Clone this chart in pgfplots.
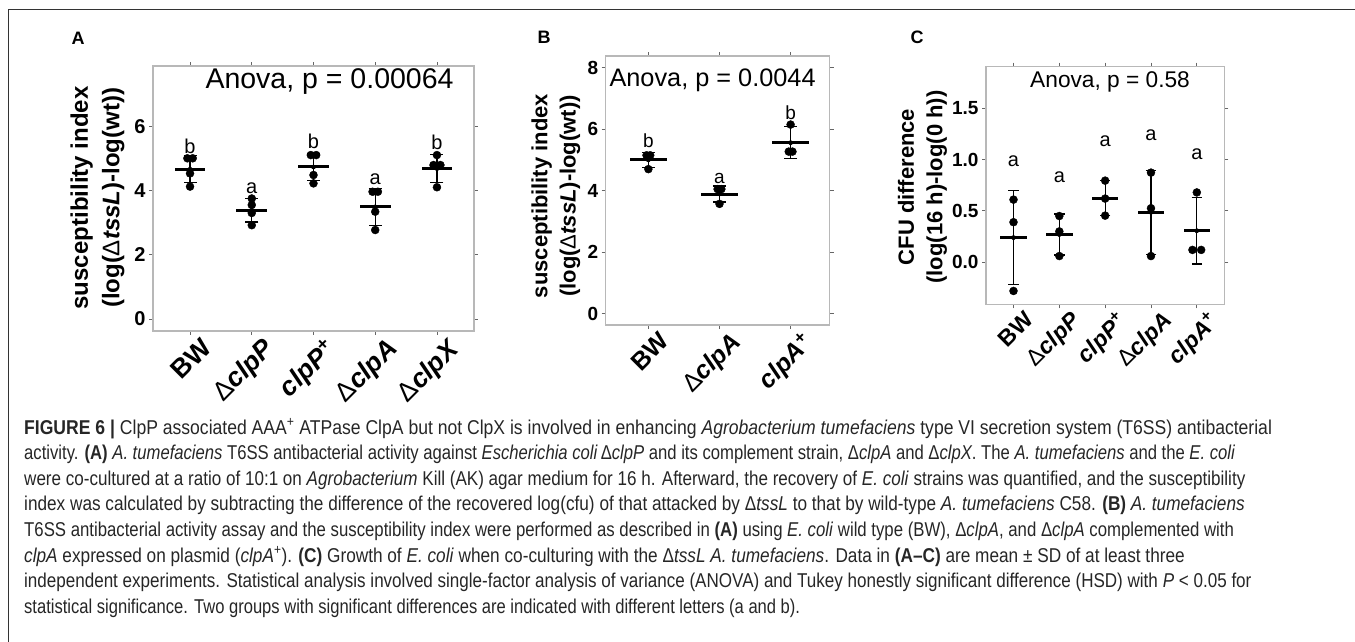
\documentclass[border=0pt]{standalone}
\usepackage{fontspec}
\setmainfont{Liberation Sans}
\newfontfamily\capfont[FakeStretch=0.92]{Liberation Sans}
\usepackage{graphicx}
\usepackage{pgfplots}
\pgfplotsset{compat=1.18}

\newcommand{\dl}{{\mdseries\upshape Δ}}
\newcommand{\fs}[1]{\fontsize{#1}{#1}\selectfont}

\pgfplotsset{
  panel/.style={
    scale only axis,
    anchor=north west,
    clip=false,
    axis line style={draw=black!28, line width=1.2pt},
    tick align=outside,
    major tick length=4pt,
    tick style={draw=black!60, line width=0.9pt},
    xtick={1,2,3,4,5},
    xticklabel style={xshift=10pt, rotate=45, anchor=north east, inner sep=1pt},
    /pgf/number format/assume math mode=true,
  },
  pts/.style={only marks, mark=*, mark size=4pt, black, forget plot},
  sd/.style={only marks, mark=none, black, forget plot,
    error bars/.cd, y dir=both, y explicit, error mark=-,
    error mark options={rotate=90, black, line width=1.2pt, mark size=#1},
    error bar style={black, line width=1.2pt}},
  mn/.style={only marks, mark=none, black, forget plot,
    error bars/.cd, x dir=both, x fixed=#1, error mark=none,
    error bar style={black, line width=3pt}},
}
\tikzset{lt/.style={anchor=base, font=\fs{#1}}}

\begin{document}
\begin{tikzpicture}
\useasboundingbox (0,0) rectangle (1355pt,-642pt);
\draw[black!80, line width=1pt] (8pt,-642pt) -- (8pt,-10pt) -- (1355pt,-10pt);

% ---------- panel A ----------
\begin{axis}[panel, at={(153pt,-66pt)}, width=321pt, height=265pt,
  xmin=0.4, xmax=5.6, ymin=-0.37, ymax=7.87, ytick={0,2,4,6},
  yticklabel style={font=\bfseries\fs{20}},
  xticklabel style={font=\bfseries\fs{26.5}},
  xticklabels={BW, \dl\textit{clpP}, \textit{clpP}\textsuperscript{+}, \dl\textit{clpA}, \dl\textit{clpX}}]
\addplot[sd=6.5pt] coordinates {(1,4.66) +- (0,0.42) (2,3.38) +- (0,0.36) (3,4.73) +- (0,0.43) (4,3.49) +- (0,0.58) (5,4.68) +- (0,0.44)};
\addplot[mn=0.25] coordinates {(1,4.66) (2,3.38) (3,4.73) (4,3.49) (5,4.68)};
\addplot[pts] coordinates {
  (0.957,5.0) (1.043,5.0) (1,4.53) (1,4.12)
  (2,3.75) (2,3.55) (2,3.3) (2,2.92)
  (2.957,5.1) (3.043,5.1) (3,4.48) (3,4.22)
  (3.957,3.96) (4.043,3.96) (4,3.34) (4,2.77)
  (5,5.1) (4.944,4.79) (5.056,4.79) (5,4.1)};
\node[lt=20] at (axis cs:1,5.15) {b};
\node[lt=20] at (axis cs:2,3.89) {a};
\node[lt=20] at (axis cs:3,5.31) {b};
\node[lt=20] at (axis cs:4,4.17) {a};
\node[lt=20] at (axis cs:5,5.27) {b};
\end{axis}

% ---------- panel B ----------
\begin{axis}[panel, at={(605.7pt,-56pt)}, width=224pt, height=269pt,
  xmin=0.4, xmax=3.55, ymin=-0.37, ymax=8.38, ytick={0,2,4,6,8}, xtick={1,2,3},
  yticklabel style={font=\bfseries\fs{19}},
  xticklabel style={font=\bfseries\fs{25}},
  xticklabels={BW, \dl\textit{clpA}, \textit{clpA}\textsuperscript{+}}]
\addplot[sd=6.5pt] coordinates {(1,5.0) +- (0,0.25) (2,3.89) +- (0,0.26) (3,5.56) +- (0,0.52)};
\addplot[mn=0.26] coordinates {(1,5.0) (2,3.89) (3,5.56)};
\addplot[pts] coordinates {
  (0.974,5.15) (1.026,5.15) (1,4.7)
  (1.974,4.05) (2.026,4.05) (2,3.57)
  (3,6.15) (2.974,5.27) (3.026,5.27)};
\node[lt=19] at (axis cs:1,5.41) {b};
\node[lt=19] at (axis cs:2,4.22) {a};
\node[lt=19] at (axis cs:3,6.3) {b};
\end{axis}

% ---------- panel C ----------
\begin{axis}[panel, at={(986pt,-66.7pt)}, width=238.3pt, height=237.6pt,
  xmin=0.4, xmax=5.6, ymin=-0.41, ymax=1.905, ytick={0,0.5,1,1.5},
  yticklabel style={font=\bfseries\fs{19}, /pgf/number format/.cd, fixed, fixed zerofill, precision=1},
  xticklabel style={font=\bfseries\fs{23}},
  xticklabels={BW, \dl\textit{clpP}, \textit{clpP}\textsuperscript{+}, \dl\textit{clpA}, \textit{clpA}\textsuperscript{+}}]
\addplot[sd=5.3pt] coordinates {(1,0.24) +- (0,0.46) (2,0.27) +- (0,0.20) (3,0.623) +- (0,0.17) (4,0.486) +- (0,0.41) (5,0.307) +- (0,0.325)};
\addplot[mn=0.29] coordinates {(1,0.24) (2,0.27) (3,0.623) (4,0.486) (5,0.307)};
\addplot[pts] coordinates {
  (1,0.61) (1,0.39) (1,-0.28)
  (2,0.45) (2,0.30) (2,0.06)
  (3,0.795) (3,0.62) (3,0.454)
  (4,0.873) (4,0.526) (4,0.06)
  (5,0.68) (4.905,0.12) (5.095,0.12)};
\node[lt=20] at (axis cs:1,0.93) {a};
\node[lt=20] at (axis cs:2,0.78) {a};
\node[lt=20] at (axis cs:3,1.125) {a};
\node[lt=20] at (axis cs:4,1.19) {a};
\node[lt=20] at (axis cs:5,1.0) {a};
\end{axis}

% ---------- panel letters, stats, axis titles ----------
\node[anchor=base west, font=\bfseries\fs{18}] at (68pt,-45pt) {A};
\node[anchor=base west, font=\bfseries\fs{18}] at (534pt,-44pt) {B};
\node[anchor=base west, font=\bfseries\fs{18}] at (907pt,-44pt) {C};

\node[anchor=base west, font=\fs{28.5}] at (202pt,-88.3pt) {Anova, p = 0.00064};
\node[anchor=base west, font=\fs{25.3}] at (606pt,-86pt) {Anova, p = 0.0044};
\node[anchor=base west, font=\fs{22.7}] at (1026.7pt,-87.3pt) {Anova, p = 0.58};

\node[rotate=90, align=center, font=\bfseries\fontsize{24}{31.6}\selectfont] at (97.5pt,-198pt)
  {susceptibility index\\(log(\dl\textit{tssL})-log(wt))};
\node[rotate=90, align=center, font=\bfseries\fontsize{22}{28.3}\selectfont] at (555.8pt,-196pt)
  {susceptibility index\\(log(\dl\textit{tssL})-log(wt))};
\node[rotate=90, align=center, font=\bfseries\fontsize{22}{28.4}\selectfont] at (922.5pt,-187pt)
  {CFU difference\\(log(16 h)-log(0 h))};

% ---------- caption ----------
\begin{scope}[every node/.style={anchor=base west, inner sep=0pt, text=black!85, font=\capfont\fs{20}}]
\node at (24pt,-434pt) {\scalebox{0.955}[1]{\textbf{FIGURE 6 |} ClpP associated AAA\textsuperscript{+} ATPase ClpA but not ClpX is involved in enhancing \textit{Agrobacterium tumefaciens} type VI secretion system (T6SS) antibacterial}};
\node at (24pt,-459.6pt) {\scalebox{0.905}[1]{activity. \textbf{(A)} \textit{A. tumefaciens} T6SS antibacterial activity against \textit{Escherichia coli}\,Δ\textit{clpP} and its complement strain, Δ\textit{clpA} and Δ\textit{clpX}. The \textit{A. tumefaciens} and the \textit{E. coli}}};
\node at (24pt,-485.2pt) {\scalebox{0.927}[1]{were co-cultured at a ratio of 10:1 on \textit{Agrobacterium} Kill (AK) agar medium for 16 h. Afterward, the recovery of \textit{E. coli} strains was quantified, and the susceptibility}};
\node at (24pt,-510.8pt) {\scalebox{0.935}[1]{index was calculated by subtracting the difference of the recovered log(cfu) of that attacked by Δ\textit{tssL} to that by wild-type \textit{A. tumefaciens} C58. \textbf{(B)} \textit{A. tumefaciens}}};
\node at (24pt,-536.4pt) {\scalebox{0.911}[1]{T6SS antibacterial activity assay and the susceptibility index were performed as described in \textbf{(A)} using \textit{E. coli} wild type (BW), Δ\textit{clpA}, and Δ\textit{clpA} complemented with}};
\node at (24pt,-562pt) {\scalebox{0.936}[1]{\textit{clpA} expressed on plasmid (\textit{clpA}\textsuperscript{+}). \textbf{(C)} Growth of \textit{E. coli} when co-culturing with the Δ\textit{tssL A. tumefaciens}. Data in \textbf{(A–C)} are mean ± SD of at least three}};
\node at (24pt,-587.6pt) {\scalebox{0.926}[1]{independent experiments. Statistical analysis involved single-factor analysis of variance (ANOVA) and Tukey honestly significant difference (HSD) with \textit{P} < 0.05 for}};
\node at (24pt,-613.2pt) {\scalebox{0.9}[1]{statistical significance. Two groups with significant differences are indicated with different letters (a and b).}};
\end{scope}
\end{tikzpicture}
\end{document}
